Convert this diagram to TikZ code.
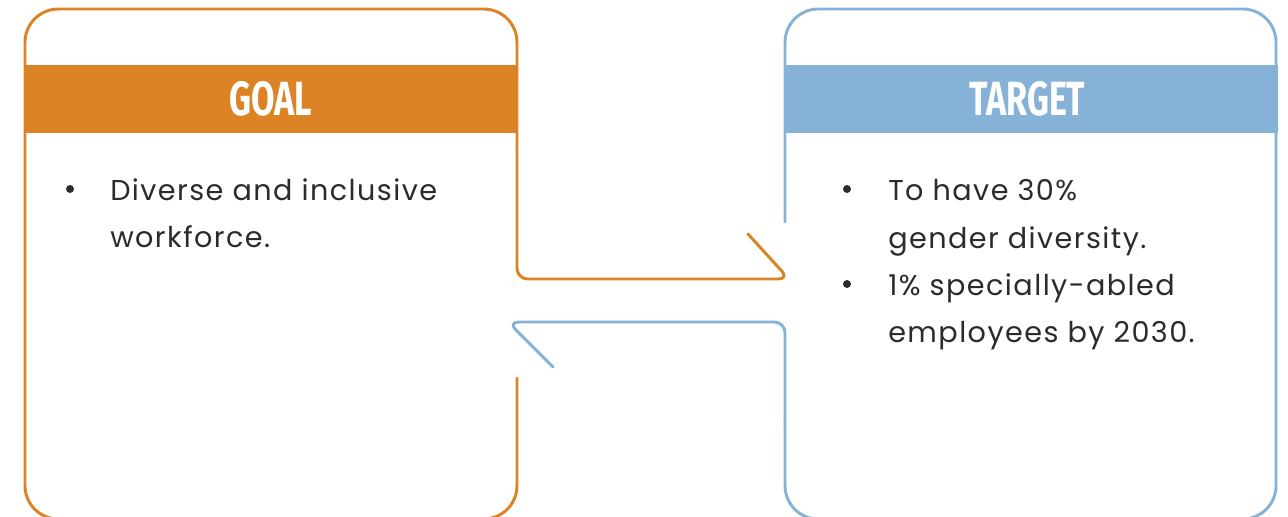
\documentclass[tikz,border=0pt]{standalone}
\usepackage{fontspec}
\usepackage{graphicx}
\setmainfont{Poppins}[LetterSpace=5]
\newfontfamily\headfont{Fira Sans}
\definecolor{goalorange}{HTML}{DC8325}
\definecolor{targetblue}{HTML}{86B2D8}
\definecolor{bodygray}{HTML}{2B2B2B}
\usetikzlibrary{positioning}

\begin{document}
\begin{tikzpicture}[x=0.75pt, y=-0.75pt,
    box/.style={line width=2.2pt, line join=round, line cap=round},
    banner/.style={inner sep=0pt, minimum height=51pt, text=white},
    item/.style={anchor=base west, inner sep=0pt, text=bodygray,
        font=\fontsize{21.5}{36}\selectfont},
    dot/.style={circle, fill=bodygray, inner sep=0pt, minimum size=6pt}]
    \useasboundingbox (0,0) rectangle (1288,517);
    % Goal box - orange frame with notch towards target
    \draw[box, goalorange, rounded corners=25] (517,378) -- (517,519) -- (25,519) -- (25,9) -- (517,9) -- (517,150);
    \draw[box, goalorange, rounded corners=8] (517,150) -- (517,279) -- (789,279) -- (748,234);
    % Target box - blue frame with notch back to goal
    \draw[box, targetblue, rounded corners=25] (785,222) -- (785,9) -- (1276,9) -- (1276,519) -- (785,519) -- (785,420);
    \draw[box, targetblue, rounded corners=8] (785,420) -- (785,322) -- (508,322) -- (553,367);
    % banners
    \node[banner, fill=goalorange, minimum width=369pt] (goal) at (271,99)
        {\scalebox{0.71}[1]{\fontsize{36}{36}\headfont\bfseries GOAL}};
    \node[banner, fill=targetblue, minimum width=369.75pt] (target) at (1031.5,99)
        {\scalebox{0.71}[1]{\fontsize{36}{36}\headfont\bfseries TARGET}\hspace*{6pt}};
    % goal text
    \node[dot] (goaldot) at (70,189) {};
    \node[item] (goalone) at (110,200) {Diverse and inclusive};
    \node[item] (goaltwo) at (110,247) {workforce.};
    % target text
    \node[dot] (targetdotone) at (847,189) {};
    \node[item] (targetone) at (888,200) {To have 30\%};
    \node[item] (targettwo) at (888,248) {gender diversity.};
    \node[dot] (targetdottwo) at (847,284) {};
    \node[item] (targetthree) at (888,295) {1\% specially-abled};
    \node[item] (targetfour) at (888,342) {employees by 2030.};
\end{tikzpicture}
\end{document}
